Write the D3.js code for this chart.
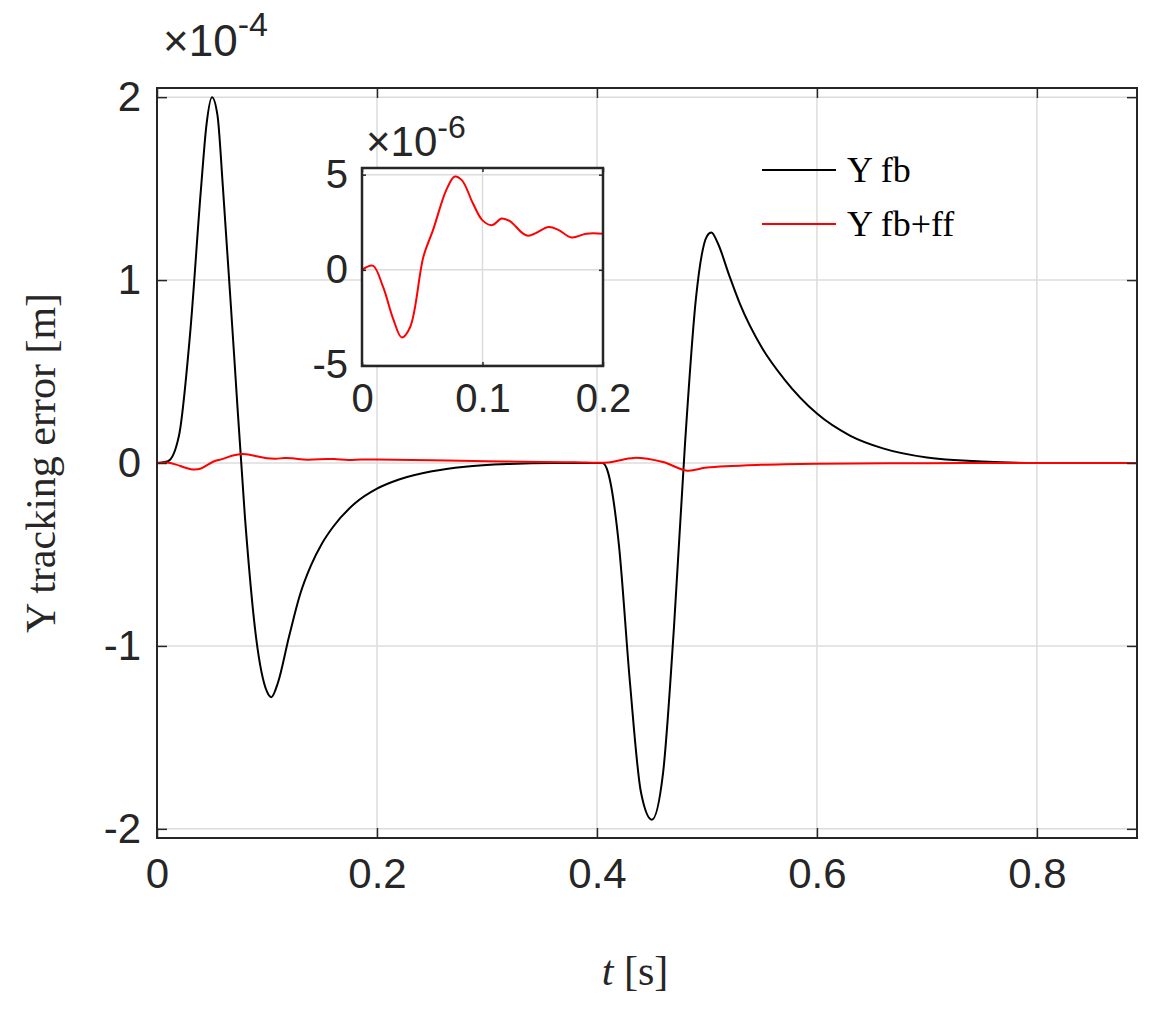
<!DOCTYPE html>
<html><head><meta charset="utf-8">
<script src="https://d3js.org/d3.v7.min.js"></script>
<style>body{margin:0;background:#fff}</style></head>
<body><svg id="c" width="1170" height="1011"></svg>
<script>
const xTicks=[0,0.2,0.4,0.6,0.8];
const yTicks=[-2,-1,0,1,2];
const insetXTicks=[0,0.1,0.2];
const insetYTicks=[-5,0,5];
const legendLabels=["Y fb","Y fb+ff"];
// Y fb (x1e-4 m)
const fbT=[0,0.01,0.02,0.03,0.04,0.045,0.05,0.055,0.06,0.07,0.08,0.09,0.1,0.104,0.11,0.12,0.13,0.14,0.15,0.16,0.18,0.2,0.22,0.25,0.28,0.32,0.36,0.405,0.41,0.42,0.43,0.44,0.45,0.46,0.47,0.48,0.49,0.5,0.504,0.51,0.52,0.53,0.55,0.57,0.6,0.63,0.66,0.7,0.75,0.8,0.89];
const fbY=[0,0.01,0.15,0.7,1.5,1.85,2.0,1.9,1.5,0.6,-0.3,-0.95,-1.25,-1.28,-1.2,-0.95,-0.72,-0.56,-0.44,-0.35,-0.22,-0.14,-0.09,-0.045,-0.02,-0.005,0,0,-0.05,-0.45,-1.2,-1.8,-1.95,-1.7,-0.9,0.1,0.9,1.24,1.26,1.2,1.03,0.87,0.63,0.46,0.27,0.15,0.08,0.03,0.008,0,0];
// Y fb+ff (x1e-6 m)
const ffT=[0,0.009,0.0175,0.026,0.033,0.04,0.051,0.059,0.07,0.077,0.083,0.092,0.1,0.108,0.116,0.123,0.137,0.155,0.163,0.174,0.186,0.2,0.25,0.3,0.35,0.38,0.41,0.434,0.46,0.482,0.5,0.55,0.6,0.7,0.8,0.89];
const ffY=[0,0.22,-0.9,-2.6,-3.55,-3.0,0.7,2.1,4.2,4.9,4.7,3.5,2.6,2.35,2.7,2.55,1.8,2.25,2.1,1.7,1.9,1.9,1.5,1.0,0.6,0.4,0.3,2.8,0.5,-4.2,-2.5,-1.0,-0.4,-0.1,0,0];

const svg=d3.select("#c");
const L=157,T=88,R=1137,B=838;
const x=d3.scaleLinear().domain([0,0.891]).range([L,R]);
const y=d3.scaleLinear().domain([-2.05,2.05]).range([B,T]);
const sans="'Liberation Sans',Arial,sans-serif", serif="'Liberation Serif','Times New Roman',serif";
const fmt=d=>String(d);
const g=svg.append("g");
g.selectAll(".gx").data(xTicks).enter().append("line").attr("x1",d=>x(d)).attr("x2",d=>x(d)).attr("y1",T).attr("y2",B).attr("stroke","#dcdcdc").attr("stroke-width",1.5);
g.selectAll(".gy").data(yTicks).enter().append("line").attr("y1",d=>y(d)).attr("y2",d=>y(d)).attr("x1",L).attr("x2",R).attr("stroke","#dcdcdc").attr("stroke-width",1.5);
const fbData=fbT.map((t,i)=>[t,fbY[i]]);
const ffData=ffT.map((t,i)=>[t,ffY[i]*0.01]);
g.append("path").attr("d",d3.line().x(d=>x(d[0])).y(d=>y(d[1])).curve(d3.curveMonotoneX)(fbData)).attr("fill","none").attr("stroke","#000").attr("stroke-width",2);
g.append("path").attr("d",d3.line().x(d=>x(d[0])).y(d=>y(d[1])).curve(d3.curveCatmullRom)(ffData)).attr("fill","none").attr("stroke","#ff0000").attr("stroke-width",2);
const ax=(sel,axis,fs)=>{sel.call(axis);sel.select(".domain").remove();sel.selectAll("line").attr("stroke","#262626").attr("stroke-width",1.5);sel.selectAll("text").attr("font-family",sans).attr("font-size",fs).attr("fill","#262626");};
ax(g.append("g").attr("transform",`translate(0,${B})`),d3.axisBottom(x).tickValues(xTicks).tickSize(-10).tickPadding(20).tickFormat(fmt),42);
ax(g.append("g").attr("transform",`translate(0,${T})`),d3.axisTop(x).tickValues(xTicks).tickSize(-10).tickFormat(""),42);
ax(g.append("g").attr("transform",`translate(${L},0)`),d3.axisLeft(y).tickValues(yTicks).tickSize(-10).tickPadding(16).tickFormat(fmt),42);
ax(g.append("g").attr("transform",`translate(${R},0)`),d3.axisRight(y).tickValues(yTicks).tickSize(-10).tickFormat(""),42);
g.append("rect").attr("x",L).attr("y",T).attr("width",R-L).attr("height",B-T).attr("fill","none").attr("stroke","#262626").attr("stroke-width",2);
const ex=g.append("text").attr("x",163).attr("y",56).attr("font-family",sans).attr("font-size",44).attr("fill","#262626");
ex.append("tspan").text("×10");ex.append("tspan").attr("dy",-20).attr("font-size",34).text("-4");
g.append("text").attr("x",(L+R)/2-12).attr("y",985).attr("text-anchor","middle").attr("font-family",serif).attr("font-size",42).attr("fill","#262626").html('<tspan font-style="italic">t</tspan> [s]');
g.append("text").attr("transform",`translate(55,${(T+B)/2}) rotate(-90)`).attr("text-anchor","middle").attr("font-family",serif).attr("font-size",42).attr("fill","#262626").text("Y tracking error [m]");
const lg=[[170,"#000"],[224,"#ff0000"]];
lg.forEach((d,i)=>{g.append("line").attr("x1",762).attr("x2",836).attr("y1",d[0]).attr("y2",d[0]).attr("stroke",d[1]).attr("stroke-width",2);
g.append("text").attr("x",847).attr("y",d[0]+12).attr("font-family",serif).attr("font-size",36).attr("fill","#000").text(legendLabels[i]);});
const iL=362,iR=603,iT=168,iB=366;
const ix=d3.scaleLinear().domain([0,0.2]).range([iL,iR]);
const iy=d3.scaleLinear().domain([-5.05,5.35]).range([iB,iT]);
const ig=svg.append("g");
ig.append("rect").attr("x",iL).attr("y",iT).attr("width",iR-iL).attr("height",iB-iT).attr("fill","#fff");
ig.selectAll(".gx").data(insetXTicks).enter().append("line").attr("x1",d=>ix(d)).attr("x2",d=>ix(d)).attr("y1",iT).attr("y2",iB).attr("stroke","#dcdcdc").attr("stroke-width",1.5);
ig.selectAll(".gy").data(insetYTicks).enter().append("line").attr("y1",d=>iy(d)).attr("y2",d=>iy(d)).attr("x1",iL).attr("x2",iR).attr("stroke","#dcdcdc").attr("stroke-width",1.5);
const insetData=ffT.map((t,i)=>[t,ffY[i]]).filter(d=>d[0]<=0.2);
ig.append("path").attr("d",d3.line().x(d=>ix(d[0])).y(d=>iy(d[1])).curve(d3.curveCatmullRom)(insetData)).attr("fill","none").attr("stroke","#ff0000").attr("stroke-width",2);
ax(ig.append("g").attr("transform",`translate(0,${iB})`),d3.axisBottom(ix).tickValues(insetXTicks).tickSize(-4).tickPadding(18).tickFormat(fmt),40);
ax(ig.append("g").attr("transform",`translate(${iL},0)`),d3.axisLeft(iy).tickValues(insetYTicks).tickSize(-4).tickPadding(14).tickFormat(fmt),40);
ax(ig.append("g").attr("transform",`translate(0,${iT})`),d3.axisTop(ix).tickValues(insetXTicks).tickSize(-4).tickFormat(""),40);
ax(ig.append("g").attr("transform",`translate(${iR},0)`),d3.axisRight(iy).tickValues(insetYTicks).tickSize(-4).tickFormat(""),40);
ig.append("rect").attr("x",iL).attr("y",iT).attr("width",iR-iL).attr("height",iB-iT).attr("fill","none").attr("stroke","#262626").attr("stroke-width",2.5);
const ex2=ig.append("text").attr("x",366).attr("y",156).attr("font-family",sans).attr("font-size",42).attr("fill","#262626");
ex2.append("tspan").text("×10");ex2.append("tspan").attr("dy",-18).attr("font-size",32).text("-6");
</script></body></html>
